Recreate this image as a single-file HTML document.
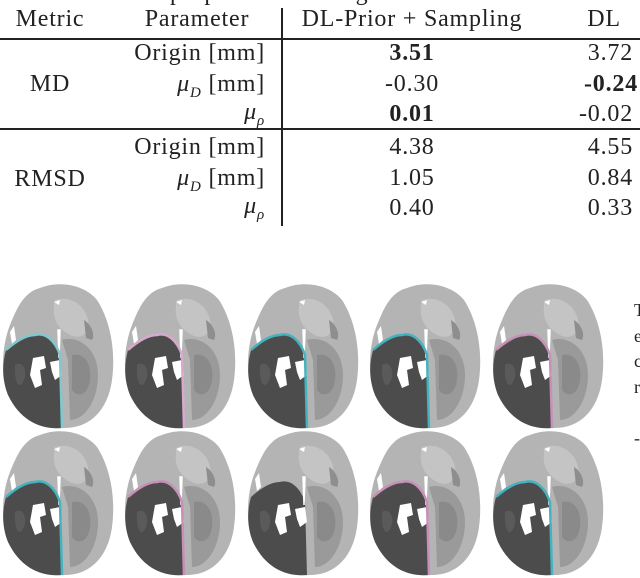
<!DOCTYPE html>
<html><head><meta charset="utf-8"><style>
body{margin:0;background:#fff;width:640px;height:578px;overflow:hidden;position:relative;font-family:"Liberation Serif",serif;color:#222}
.t{position:absolute;font-size:24px;line-height:24px;letter-spacing:0.8px;white-space:nowrap}
.c{transform:translateX(-50%)}
.r{transform:translateX(-100%)}
b{font-weight:bold}
.hl{position:absolute;left:0;width:640px;height:1.5px;background:#222}
</style></head><body>
<div class="t" style="left:170px;top:-19px">purposes of the registration</div>
<div style="position:absolute;left:281px;top:8px;width:1.5px;height:218px;background:#222"></div>
<div class="hl" style="top:38px"></div>
<div class="hl" style="top:128px"></div>

<div class="t c" style="left:50px;top:7px">Metric</div>
<div class="t c" style="left:197px;top:7px">Parameter</div>
<div class="t c" style="left:412px;top:7px">DL-Prior + Sampling</div>
<div class="t c" style="left:604px;top:7px">DL</div>

<div class="t c" style="left:50px;top:72px">MD</div>
<div class="t r" style="left:265px;top:41px">Origin [mm]</div>
<div class="t r" style="left:265px;top:72px"><i>μ<sub style="font-size:15px">D</sub></i> [mm]</div>
<div class="t r" style="left:265px;top:100px"><i>μ<sub style="font-size:15px">ρ</sub></i></div>
<div class="t c" style="left:412px;top:41px"><b>3.51</b></div>
<div class="t c" style="left:412px;top:72px">-0.30</div>
<div class="t c" style="left:412px;top:102px"><b>0.01</b></div>
<div class="t r" style="left:633px;top:41px">3.72</div>
<div class="t r" style="left:638px;top:72px"><b>-0.24</b></div>
<div class="t r" style="left:633px;top:102px">-0.02</div>

<div class="t c" style="left:50px;top:167px">RMSD</div>
<div class="t r" style="left:265px;top:135px">Origin [mm]</div>
<div class="t r" style="left:265px;top:166px"><i>μ<sub style="font-size:15px">D</sub></i> [mm]</div>
<div class="t r" style="left:265px;top:194px"><i>μ<sub style="font-size:15px">ρ</sub></i></div>
<div class="t c" style="left:412px;top:135px">4.38</div>
<div class="t c" style="left:412px;top:166px">1.05</div>
<div class="t c" style="left:412px;top:196px">0.40</div>
<div class="t r" style="left:633px;top:135px">4.55</div>
<div class="t r" style="left:633px;top:166px">0.84</div>
<div class="t r" style="left:633px;top:196px">0.33</div>

<div class="t" style="left:634px;top:298px;font-size:18px;line-height:25.5px;letter-spacing:0">T<br>e<br>c<br>r<br><br>-</div>

<svg width="640" height="578" style="position:absolute;left:0;top:0">
<defs>
<g id="brain">
<path d="M40,8 C60,0 85,5 97,20 C110,40 116,70 112,100 C108,130 90,148 65,148 C40,150 20,140 8,115 C0,95 2,65 10,45 C18,25 25,12 40,8 Z" fill="#b4b4b4"/>
<path d="M55,20 C70,15 85,25 88,40 C90,55 80,60 70,55 C60,50 50,40 55,20 Z" fill="#c4c4c4"/>
<path d="M62,60 C80,55 98,70 98,95 C98,120 85,140 70,140 L68,80 Z" fill="#9a9a9a"/>
<path d="M72,75 C85,72 92,85 90,100 C88,115 78,118 72,110 Z" fill="#8a8a8a"/>
<path d="M84,40 C92,45 95,55 92,60 L86,58 Z" fill="#8e8e8e"/>
<path d="M6,70 C15,62 25,55 35,55 C45,52 55,60 60,75 L62,148 C40,150 20,140 8,115 C2,100 2,85 6,70 Z" fill="#4c4c4c"/>
<path d="M15,85 C22,80 28,90 24,100 C20,110 14,105 15,85 Z" fill="#5a5a5a"/>
<path d="M33,78 L44,76 L46,88 L40,90 L42,105 L35,108 L30,95 Z" fill="#fff"/>
<path d="M50,82 L60,80 L62,95 L55,100 L52,92 Z" fill="#fff"/>
<path d="M58,50 L59,78 L60,50 Z" fill="#fff" stroke="#fff" stroke-width="1.5"/>
<path d="M54,22 L60,20 L59,25 Z" fill="#fff"/>
<path d="M10,52 L14,46 L16,60 L12,64 Z" fill="#fff"/>
</g>
</defs>
<script>
const cols=[0,122,245,367,490];
const rows=[280,427];
const outlines=[["#7fc8cf","#d8a8cf","#45b3bf","#45b3bf","#c890b8"],["#45b3bf","#c890b8",null,"#c890b8","#45b3bf"]];
const svg=document.currentScript.parentNode;
const NS="http://www.w3.org/2000/svg";
rows.forEach((y,ri)=>cols.forEach((x,ci)=>{
 const g=document.createElementNS(NS,"g");
 
 
 g.setAttribute("transform",`translate(${x},${y})`);
 const u=document.createElementNS(NS,"use");
 u.setAttribute("href","#brain");
 g.appendChild(u);
 const col=outlines[ri][ci];
 if(col){const p=document.createElementNS(NS,"path");
  
  
  p.setAttribute("d","M6,70 C15,62 25,55 35,55 C45,52 55,60 60,75 L62,148");
  p.setAttribute("fill","none");p.setAttribute("stroke",col);p.setAttribute("stroke-width","2.5");
  g.appendChild(p);}
 svg.appendChild(g);
}));
</script>
</svg>
</body></html>
